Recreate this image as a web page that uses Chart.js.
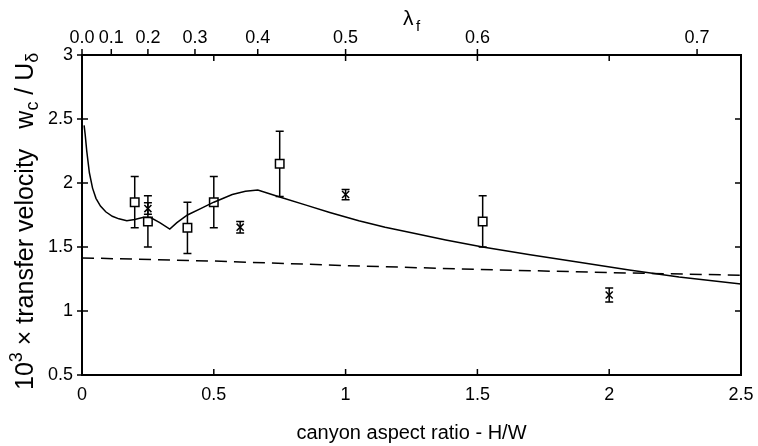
<!DOCTYPE html>
<html>
<head>
<meta charset="utf-8">
<script src="https://cdn.jsdelivr.net/npm/chart.js@4.4.0/dist/chart.umd.min.js"></script>
<style>
  html, body { margin: 0; padding: 0; background: #fff; }
  #wrap { width: 758px; height: 446px; position: relative; }
</style>
</head>
<body>
<div id="wrap"><canvas id="chart"></canvas></div>
<script>
// model curve (solid line)
const modelX = [0.008, 0.012, 0.018, 0.028, 0.04, 0.053, 0.07, 0.09, 0.115, 0.14, 0.17, 0.2, 0.23, 0.26, 0.295, 0.333,
                0.36, 0.4, 0.45, 0.5, 0.57, 0.62, 0.667, 0.75, 0.85, 0.94, 1.05, 1.15, 1.25, 1.38, 1.52, 1.7, 1.886, 2.076, 2.265, 2.5];
const modelY = [2.45, 2.38, 2.25, 2.08, 1.96, 1.88, 1.82, 1.775, 1.74, 1.72, 1.705, 1.715, 1.73, 1.73, 1.69, 1.64,
                1.69, 1.75, 1.80, 1.85, 1.91, 1.935, 1.945, 1.89, 1.827, 1.77, 1.705, 1.655, 1.612, 1.555, 1.50, 1.44, 1.38, 1.32, 1.266, 1.21];

// reference line (dashed)
const refX = [0, 0.5, 1, 1.5, 2, 2.5];
const refY = [1.415, 1.39, 1.355, 1.325, 1.30, 1.28];

// measurements, squares
const squareX = [0.2, 0.25, 0.4, 0.5, 0.75, 1.52];
const squareY = [1.85, 1.70, 1.65, 1.85, 2.15, 1.70];
const squareErr = [0.20, 0.20, 0.20, 0.20, 0.255, 0.20];

// measurements, crosses
const crossX = [0.25, 0.6, 1.0, 2.0];
const crossY = [1.80, 1.655, 1.91, 1.125];
const crossErr = [0.045, 0.045, 0.04, 0.055];

const xTicks = [0, 0.5, 1, 1.5, 2, 2.5];
const yTicks = [0.5, 1, 1.5, 2, 2.5, 3];
const lambdaTicks = [0.0, 0.1, 0.2, 0.3, 0.4, 0.5, 0.6, 0.7];
const lambdaLabels = ['0.0', '0.1', '0.2', '0.3', '0.4', '0.5', '0.6', '0.7'];

const FONT = "'Liberation Sans', Arial, sans-serif";
const pts = (xs, ys) => xs.map((x, i) => ({ x: x, y: ys[i] }));

// error bars, frame, ticks and titles
const decorations = {
  id: 'decorations',
  beforeDatasetsDraw(chart) {
    const ctx = chart.ctx, xs = chart.scales.x, ys = chart.scales.y;
    ctx.save();
    ctx.strokeStyle = '#000';
    ctx.lineWidth = 1.5;
    chart.data.datasets.forEach(ds => {
      if (!ds.errors) return;
      ds.data.forEach((p, i) => {
        const px = xs.getPixelForValue(p.x);
        const lo = ys.getPixelForValue(p.y - ds.errors[i]);
        const hi = ys.getPixelForValue(p.y + ds.errors[i]);
        ctx.beginPath();
        ctx.moveTo(px, lo); ctx.lineTo(px, hi);
        ctx.moveTo(px - 4, lo); ctx.lineTo(px + 4, lo);
        ctx.moveTo(px - 4, hi); ctx.lineTo(px + 4, hi);
        ctx.stroke();
      });
    });
    ctx.restore();
  },
  afterDraw(chart) {
    const ctx = chart.ctx, a = chart.chartArea;
    const xs = chart.scales.x, ys = chart.scales.y;
    ctx.save();
    ctx.strokeStyle = '#000';
    ctx.lineWidth = 2;
    ctx.strokeRect(a.left, a.top, a.right - a.left, a.bottom - a.top);

    ctx.lineWidth = 1.5;
    ctx.beginPath();
    yTicks.forEach(v => {
      const py = ys.getPixelForValue(v);
      ctx.moveTo(a.left - 5, py); ctx.lineTo(a.left + 6, py);
      ctx.moveTo(a.right, py); ctx.lineTo(a.right - 6, py);
    });
    xTicks.forEach(v => {
      const px = xs.getPixelForValue(v);
      ctx.moveTo(px, a.bottom); ctx.lineTo(px, a.bottom - 6);
      ctx.moveTo(px, a.top); ctx.lineTo(px, a.top + 6);
    });
    lambdaTicks.forEach(l => {
      const px = xs.getPixelForValue(l / (1 - l));
      ctx.moveTo(px, a.top); ctx.lineTo(px, a.top - 6);
    });
    ctx.stroke();

    ctx.fillStyle = '#000';
    // bottom title
    ctx.font = '20px ' + FONT;
    ctx.textAlign = 'center';
    ctx.textBaseline = 'alphabetic';
    ctx.fillText('canyon aspect ratio - H/W', (a.left + a.right) / 2, 439);

    // top title lambda_f
    ctx.textAlign = 'left';
    ctx.font = '21px ' + FONT;
    ctx.fillText('\u03bb', 403, 25);
    ctx.font = '15px ' + FONT;
    ctx.fillText('f', 416, 31);

    // left title with super/subscripts, read bottom to top
    const parts = [
      { t: '10', f: 25, dy: 0 },
      { t: '3', f: 18, dy: -11 },
      { t: ' \u00d7 transfer velocity', f: 25, dy: 0 },
      { gap: 20 },
      { t: 'w', f: 25, dy: 0 },
      { t: 'c', f: 18, dy: 5 },
      { t: ' / U', f: 25, dy: 0 },
      { t: '\u03b4', f: 18, dy: 5 }
    ];
    ctx.translate(33, 390);
    ctx.rotate(-Math.PI / 2);
    let cx = 0;
    parts.forEach(p => {
      if (p.gap) { cx += p.gap; return; }
      ctx.font = p.f + 'px ' + FONT;
      ctx.fillText(p.t, cx, p.dy);
      cx += ctx.measureText(p.t).width;
    });
    ctx.restore();
  }
};

const tickFont = { family: FONT, size: 18 };
// keep the plot frame where the reference has it: no extra room for edge labels
const noSidePadding = s => { s.paddingLeft = 0; s.paddingRight = 0; };

new Chart(document.getElementById('chart'), {
  type: 'scatter',
  data: {
    datasets: [
      {
        label: 'model',
        data: pts(modelX, modelY),
        showLine: true,
        borderColor: '#000',
        borderWidth: 1.5,
        pointRadius: 0,
        tension: 0
      },
      {
        label: 'reference',
        data: pts(refX, refY),
        showLine: true,
        borderColor: '#000',
        borderWidth: 1.5,
        borderDash: [12, 7],
        pointRadius: 0,
        tension: 0
      },
      {
        label: 'squares',
        data: pts(squareX, squareY),
        errors: squareErr,
        pointStyle: 'rect',
        pointRadius: 6,
        borderColor: '#000',
        borderWidth: 1.5,
        backgroundColor: '#fff'
      },
      {
        label: 'crosses',
        data: pts(crossX, crossY),
        errors: crossErr,
        pointStyle: 'crossRot',
        pointRadius: 5,
        borderColor: '#000',
        borderWidth: 1.5,
        backgroundColor: '#000'
      }
    ]
  },
  options: {
    responsive: true,
    maintainAspectRatio: false,
    animation: false,
    layout: { padding: { left: 0, right: 17, top: 0, bottom: 0 } },
    plugins: {
      legend: { display: false },
      tooltip: { enabled: false }
    },
    scales: {
      x: {
        type: 'linear',
        position: 'bottom',
        min: 0, max: 2.5,
        afterBuildTicks: s => { s.ticks = xTicks.map(v => ({ value: v })); },
        afterFit: s => { s.height = 71; noSidePadding(s); },
        grid: { display: false, drawTicks: false },
        border: { display: false },
        ticks: { font: tickFont, color: '#000', padding: 9, maxRotation: 0, autoSkip: false, callback: v => String(v) }
      },
      x2: {
        type: 'linear',
        position: 'top',
        min: 0, max: 2.5,
        afterBuildTicks: s => { s.ticks = lambdaTicks.map(l => ({ value: l / (1 - l) })); },
        afterFit: s => { s.height = 55; noSidePadding(s); },
        grid: { display: false, drawTicks: false },
        border: { display: false },
        ticks: { font: tickFont, color: '#000', padding: 6, maxRotation: 0, autoSkip: false,
                 callback: (v, i) => lambdaLabels[i] }
      },
      y: {
        type: 'linear',
        position: 'left',
        min: 0.5, max: 3,
        afterBuildTicks: s => { s.ticks = yTicks.map(v => ({ value: v })); },
        afterFit: s => { s.width = 82; s.paddingTop = 0; s.paddingBottom = 0; },
        grid: { display: false, drawTicks: false },
        border: { display: false },
        ticks: { font: tickFont, color: '#000', padding: 9, autoSkip: false, callback: v => String(v) }
      }
    }
  },
  plugins: [decorations]
});
</script>
</body>
</html>
